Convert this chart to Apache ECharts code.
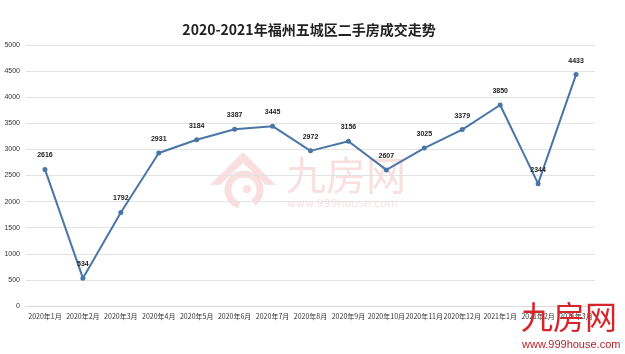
<!DOCTYPE html>
<html><head><meta charset="utf-8">
<script src="https://cdn.jsdelivr.net/npm/echarts@6/dist/echarts.min.js"></script>
<style>html,body{margin:0;padding:0;background:#fff}#c{width:625px;height:354px}</style>
</head><body><div id="c"></div>
<script>
const categories = ['2020年1月','2020年2月','2020年3月','2020年4月','2020年5月','2020年6月','2020年7月','2020年8月','2020年9月','2020年10月','2020年11月','2020年12月','2021年1月','2021年2月','2021年3月'];
const values = [2616, 534, 1792, 2931, 3184, 3387, 3445, 2972, 3156, 2607, 3025, 3379, 3850, 2344, 4433];
const yTicks = [0, 500, 1000, 1500, 2000, 2500, 3000, 3500, 4000, 4500, 5000];

const wm = 'rgba(226,110,110,0.22)';
const chart = echarts.init(document.getElementById('c'));
chart.setOption({
  backgroundColor: '#fff',
  animation: false,
  title: {
    text: '2020-2021年福州五城区二手房成交走势',
    left: 304, top: 18, textAlign: 'center',
    textStyle: { fontSize: 14, fontWeight: 'bold', color: '#222', fontFamily: 'Noto Sans CJK SC' }
  },
  grid: { left: 26, right: 30, top: 45, bottom: 48 },
  xAxis: {
    type: 'category', data: categories, boundaryGap: true,
    axisLine: { lineStyle: { color: '#d9d9d9' } },
    axisTick: { show: false },
    axisLabel: { fontSize: 7, color: '#333', margin: 7, interval: 0, fontFamily: 'Noto Sans CJK SC' }
  },
  yAxis: {
    type: 'value', min: yTicks[0], max: yTicks[yTicks.length - 1], interval: 500,
    axisLine: { show: false }, axisTick: { show: false },
    splitLine: { lineStyle: { color: '#e3e3e3' } },
    axisLabel: { fontSize: 7, color: '#333', margin: 6, formatter: v => String(v) }
  },
  series: [{
    type: 'line', data: values, symbol: 'circle', symbolSize: 5, z: 5,
    lineStyle: { color: '#4a76a6', width: 2 },
    itemStyle: { color: '#4a76a6' },
    label: { show: true, position: 'top', distance: 8, fontSize: 7, fontWeight: 'bold', color: '#222' }
  }],
  graphic: [
    { type: 'polygon', z: 0, shape: { points: [[210,185],[243,152],[276,185],[266,185],[243,163],[220,185]] }, style: { fill: wm } },
    { type: 'arc', z: 0, shape: { cx: 244, cy: 190, r: 16, startAngle: Math.PI * 0.6, endAngle: Math.PI * 2.3 }, style: { stroke: wm, lineWidth: 7, fill: 'none' } },
    { type: 'circle', z: 0, shape: { cx: 247, cy: 189, r: 4 }, style: { fill: wm } },
    { type: 'text', left: 286, top: 155, z: 0, style: { text: '九房网', fontSize: 40, fill: wm, fontFamily: 'Noto Sans CJK SC' } },
    { type: 'text', left: 287, top: 199, z: 0, style: { text: 'www.999house.com', fontSize: 11, fill: wm, fontFamily: 'DejaVu Sans' } },
    { type: 'text', left: 521, top: 301, z: 100, style: { text: '九房网', fontSize: 32, fill: '#d7262b', fontFamily: 'Noto Sans CJK SC' } },
    { type: 'text', left: 522, top: 339, z: 100, style: { text: 'www.999house.com', fontSize: 11, fill: '#b51f24', fontFamily: 'Liberation Sans' } }
  ]
});
</script></body></html>
